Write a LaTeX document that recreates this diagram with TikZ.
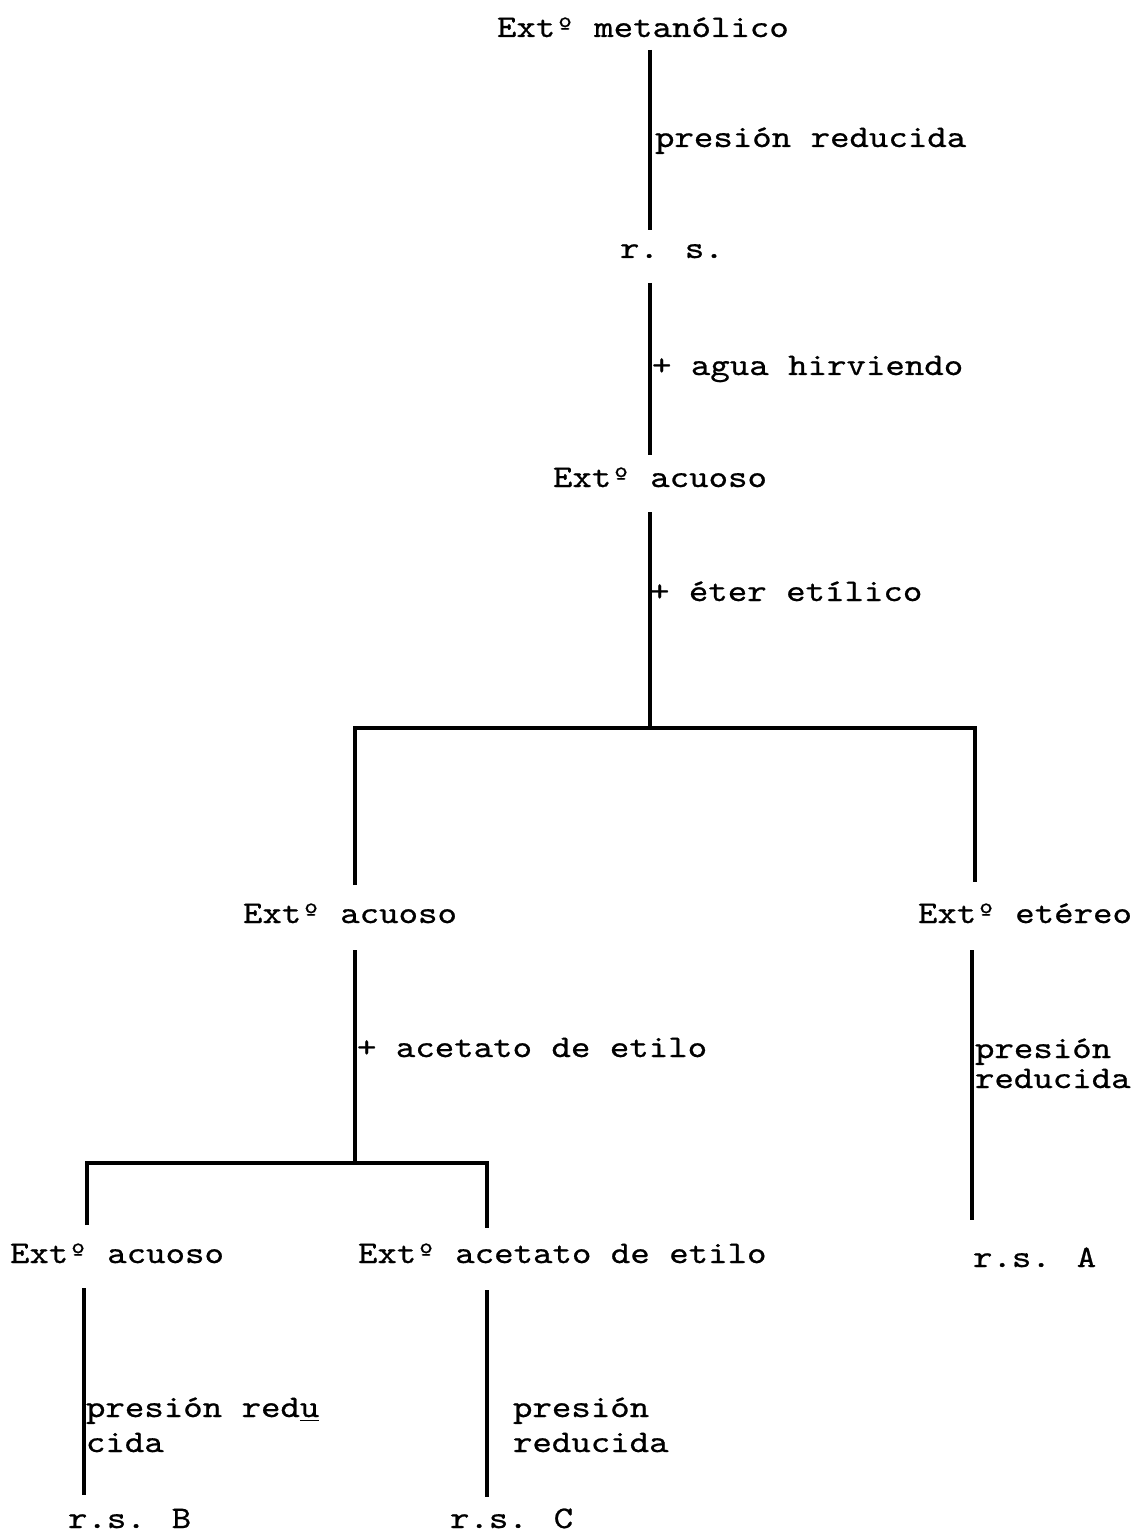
\documentclass[tikz,border=0pt]{standalone}
\usepackage{fontspec}
\newfontfamily\tw{lmmono10-regular.otf}[FakeStretch=1.18,FakeBold=0.7]
\begin{document}
\begin{tikzpicture}[x=0.5pt,y=-0.5pt,
  lbl/.style={anchor=base west,inner sep=0pt,outer sep=0pt,
    font=\tw\fontsize{15.7}{15}\selectfont,align=left},
  tight/.style={font=\tw\fontsize{15.7}{15}\selectfont},
  loose/.style={font=\tw\fontsize{15.7}{17.5}\selectfont},
  flow/.style={line width=2.1pt,line cap=butt}]
\useasboundingbox (0,0) rectangle (1137,1534);

% texts of the scheme (multi-line labels are placed by their last baseline)
\node[lbl] (met)   at (497,37)  {Extº metanólico};
\node[lbl] (p1)    at (655,147) {presión reducida};
\node[lbl] (rs)    at (620,258) {r. s.};
\node[lbl] (agua)  at (652,375) {+ agua hirviendo};
\node[lbl] (ac1)   at (553,487) {Extº acuoso};
\node[lbl] (eter)  at (650,601) {+ éter etílico};
\node[lbl] (ac2)   at (243,923) {Extº acuoso};
\node[lbl] (etr)   at (918,923) {Extº etéreo};
\node[lbl] (acet)  at (357,1057) {+ acetato de etilo};
\node[lbl,tight] (pA) at (975,1088) {presión\\reducida};
\node[lbl] (rsA)   at (973,1267) {r.s. A};
\node[lbl] (ac3)   at (10,1263)  {Extº acuoso};
\node[lbl] (eac)   at (358,1263) {Extº acetato de etilo};
\node[lbl,loose] (pB) at (86,1452) {presión red\underline{u}\\cida};
\node[lbl,loose] (pC) at (513,1452) {presión\\reducida};
\node[lbl] (rsB)   at (68,1528) {r.s. B};
\node[lbl] (rsC)   at (450,1528) {r.s. C};

% junctions and line ends
\coordinate (a1) at (650,50);   \coordinate (a2) at (650,230);
\coordinate (b1) at (650,283);  \coordinate (b2) at (650,455);
\coordinate (c1) at (650,512);  \coordinate (c2) at (650,728);
\coordinate (cl) at (355,728);  \coordinate (cr) at (975,728);
\coordinate (cl2) at (355,885); \coordinate (cr2) at (975,882);
\coordinate (d1) at (355,950);  \coordinate (d2) at (355,1163);
\coordinate (dl) at (87,1163);  \coordinate (dr) at (487,1163);
\coordinate (dl2) at (87,1225); \coordinate (dr2) at (487,1228);
\coordinate (e1) at (972,950);  \coordinate (e2) at (972,1220);
\coordinate (f1) at (84,1288);  \coordinate (f2) at (84,1495);
\coordinate (g1) at (487,1290); \coordinate (g2) at (487,1497);

% connectors
\draw[flow] (a1) -- (a2);
\draw[flow] (b1) -- (b2);
\draw[flow] (c1) -- (c2);
\draw[flow] (cl2) -- (cl) -- (cr) -- (cr2);
\draw[flow] (d1) -- (d2);
\draw[flow] (dl2) -- (dl) -- (dr) -- (dr2);
\draw[flow] (e1) -- (e2);
\draw[flow] (f1) -- (f2);
\draw[flow] (g1) -- (g2);
\end{tikzpicture}
\end{document}
